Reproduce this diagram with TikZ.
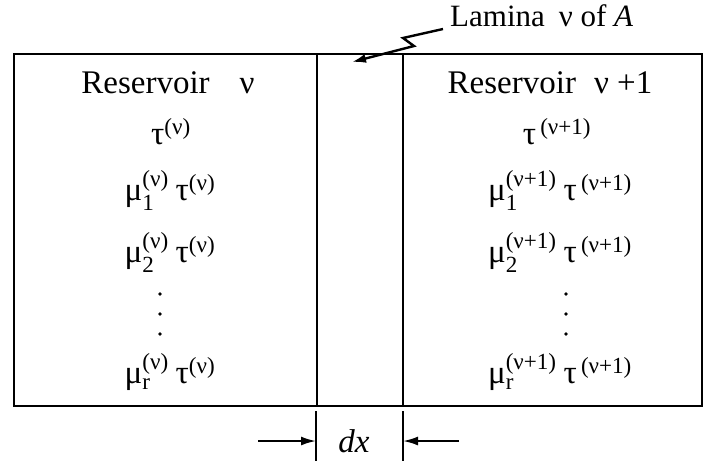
\documentclass[tikz,border=0pt]{standalone}
\usepackage{amsmath}
\usepackage{fontspec}
\setmainfont{Liberation Serif}
\usetikzlibrary{arrows.meta, positioning, calc}

\begin{document}
\begin{tikzpicture}[
    x=1pt, y=-1pt,
    wall/.style={line width=2.8pt},
    tick/.style={line width=2.6pt},
    txt/.style={font=\fontsize{33}{38}\selectfont, anchor=base, inner sep=0pt},
    arrow/.style={line width=2pt, -{Latex[length=15pt, width=9pt]}},
    lamarrow/.style={line width=2.4pt, -{Latex[length=14pt, width=9pt]}}
]
    \useasboundingbox (0,0) rectangle (714,461);

    % box and lamina walls
    \coordinate (nw) at (14,54);
    \coordinate (se) at (702,406);
    \draw[wall] (nw) rectangle (se);
    \coordinate (lamtop) at (317,54);
    \coordinate (lambot) at (317,406);
    \coordinate (ramtop) at (403,54);
    \coordinate (rambot) at (403,406);
    \draw[wall] (lamtop) -- (lambot);
    \draw[wall] (ramtop) -- (rambot);

    % left reservoir
    \node[txt] (resL) at (168,93) {Reservoir\hspace{30pt}ν};
    \node[txt] (tauL) at (171,144) {$\text{τ}^{\text{(ν)}}$};
    \node[txt] (mu1L) at (170,200) {$\text{μ}^{\text{(ν)}}_{\text{1}}\;\text{τ}^{\text{(ν)}}$};
    \node[txt] (mu2L) at (170,262) {$\text{μ}^{\text{(ν)}}_{\text{2}}\;\text{τ}^{\text{(ν)}}$};
    \node[txt] (murL) at (170,383) {$\text{μ}^{\text{(ν)}}_{\text{r}}\;\text{τ}^{\text{(ν)}}$};

    % right reservoir
    \node[txt] (resR) at (550,93) {Reservoir\hspace{18pt}ν +1};
    \node[txt] (tauR) at (557,144) {$\text{τ}^{\,\text{(ν+1)}}$};
    \node[txt] (mu1R) at (560,200) {$\text{μ}^{\text{(ν+1)}}_{\text{1}}\;\text{τ}^{\,\text{(ν+1)}}$};
    \node[txt] (mu2R) at (560,262) {$\text{μ}^{\text{(ν+1)}}_{\text{2}}\;\text{τ}^{\,\text{(ν+1)}}$};
    \node[txt] (murR) at (560,383) {$\text{μ}^{\text{(ν+1)}}_{\text{r}}\;\text{τ}^{\,\text{(ν+1)}}$};

    % dots
    \foreach \y in {294,314,334} {
        \fill (160,\y) circle (1.8pt);
        \fill (566,\y) circle (1.8pt);
    }

    % lamina label
    \node[txt, anchor=base west, font=\fontsize{31}{36}\selectfont] (lam) at (450,26) {Lamina\hspace{14pt}ν of \textit{A}};
    \coordinate (lamtip) at (352,62);
    \draw[lamarrow] ([xshift=-7pt, yshift=-3pt]lam.base west) -- ++(-40,9) -- ++(11,8) -- (lamtip);

    % dx
    \coordinate (tl) at (316,411);
    \coordinate (tr) at (403,411);
    \draw[tick] (tl) -- ++(0,50);
    \draw[tick] (tr) -- ++(0,50);
    \node[txt] (dx) at (354,452) {\textit{dx}};
    \coordinate (al) at (258,441);
    \coordinate (ar) at (459,441);
    \draw[arrow] (al) -- (tl |- al);
    \draw[arrow] (ar) -- (tr |- ar);

\end{tikzpicture}
\end{document}
